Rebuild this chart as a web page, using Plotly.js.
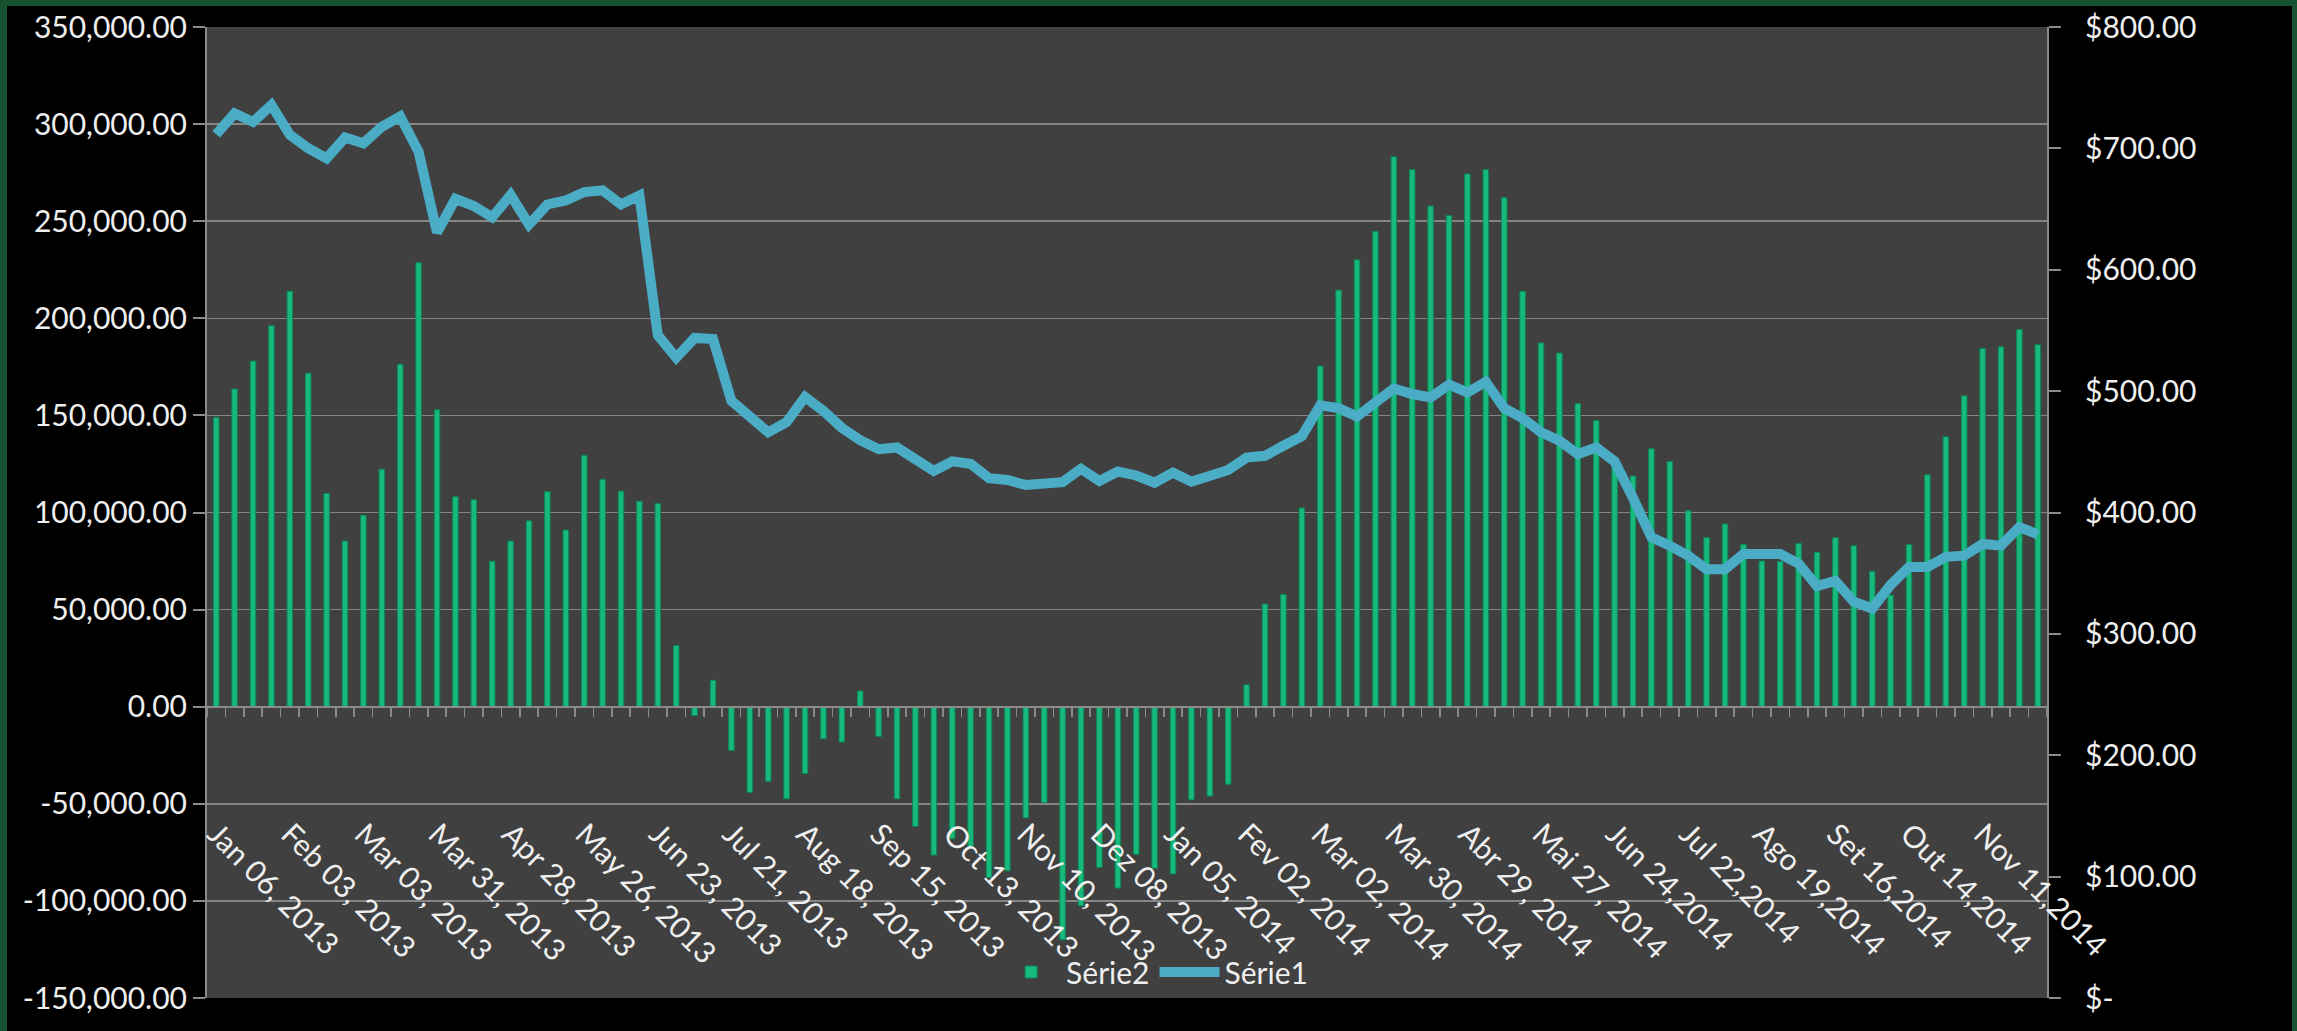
<!DOCTYPE html>
<html>
<head>
<meta charset="utf-8">
<script src="https://cdn.plot.ly/plotly-3.0.1.min.js"></script>
<style>
html, body { margin: 0; padding: 0; width: 2297px; height: 1031px; overflow: hidden; background: #15522f; }
#plot { position: absolute; left: 7px; top: 6px; width: 2285px; height: 1025px; background: #000; }
</style>
</head>
<body>
<div id="plot"></div>
<script>
// weekly values, Jan 06 2013 .. Nov 30 2014
let serie2 = [
  149000, 163600, 178000, 196200, 213900, 171700, 109800, 85300, 98600, 122300,
  176300, 228600, 152900, 108100, 106600, 74900, 85300, 95700, 110700, 91000,
  129500, 117100, 111000, 105800, 104600, 31500, -4600, 13600, -22500, -44200,
  -38400, -47400, -34400, -16500, -18200, 8100, -15300, -47400, -61600, -76400,
  -68000, -72000, -88000, -84500, -57200, -49400, -120000, -102500, -82800, -93400,
  -76000, -83200, -86100, -48000, -46000, -39900, 11300, 52900, 57800, 102300,
  175400, 214500, 230100, 244800, 283200, 276600, 257800, 252900, 274300, 276600,
  262100, 213900, 187300, 182100, 156100, 147400, 128000, 118800, 132800, 126200,
  100900, 87000, 94100, 83600, 75000, 74800, 84100, 79500, 87000, 82900,
  69700, 57500, 83500, 119400, 139000, 160100, 184400, 185300, 194200, 186400
]

let serie1 = [
  711.6, 728.8, 721.8, 735.7, 711.2, 700.1, 691.8, 708.9, 704.2, 717.7,
  726.4, 697.3, 630.7, 658.5, 652.5, 643.2, 661.7, 637.2, 653.8, 657.1,
  664.0, 665.4, 653.8, 661.2, 546.1, 527.6, 543.8, 542.9, 492.0, 477.7,
  466.1, 474.4, 495.2, 483.7, 469.8, 459.6, 452.2, 453.6, 443.0, 434.2,
  442.1, 440.2, 428.2, 426.8, 422.6, 423.6, 425.0, 436.0, 425.9, 433.7,
  430.5, 424.5, 432.8, 425.4, 429.6, 435.1, 445.3, 446.7, 455.0, 462.9,
  488.3, 486.0, 479.1, 492.0, 502.2, 497.6, 494.8, 505.4, 498.9, 507.7,
  486.0, 477.7, 466.1, 459.2, 448.1, 453.6, 442.1, 412.0, 379.6, 372.7,
  364.4, 353.3, 353.3, 365.8, 365.8, 365.8, 357.9, 339.4, 343.6, 326.5,
  320.9, 340.3, 355.1, 355.1, 363.5, 364.4, 374.1, 372.7, 388.0, 382.0
]

// category labels, one every 4 weeks
let dateLabels = [
  "Jan 06, 2013", "Feb 03, 2013", "Mar 03, 2013", "Mar 31, 2013", "Apr 28, 2013",
  "May 26, 2013", "Jun 23, 2013", "Jul 21, 2013", "Aug 18, 2013", "Sep 15, 2013",
  "Oct 13, 2013", "Nov 10, 2013", "Dez 08, 2013", "Jan 05, 2014", "Fev 02, 2014",
  "Mar 02, 2014", "Mar 30, 2014", "Abr 29, 2014", "Mai 27, 2014", "Jun 24,2014",
  "Jul 22,2014", "Ago 19,2014", "Set 16,2014", "Out 14,2014", "Nov 11,2014"
]
let labelEvery = 4

let leftTicks = [-150000, -100000, -50000, 0, 50000, 100000, 150000, 200000, 250000, 300000, 350000]
let leftTickText = ["-150,000.00", "-100,000.00", "-50,000.00", "0.00", "50,000.00", "100,000.00",
  "150,000.00", "200,000.00", "250,000.00", "300,000.00", "350,000.00"]
let rightTicks = [0, 100, 200, 300, 400, 500, 600, 700, 800]
let rightTickText = ["$-", "$100.00", "$200.00", "$300.00", "$400.00", "$500.00", "$600.00", "$700.00", "$800.00"]

let weeks = []
for (let i = 0; i < serie2.length; i++) weeks.push(i)
let labelPos = []
for (let i = 0; i < dateLabels.length; i++) labelPos.push(i * labelEvery)

let txt = "#efefef"
let axisGray = "#8a8a8a"
let font = "Lato, 'Open Sans', sans-serif"
let fs = 30

let trace2 = {
  x: weeks,
  y: serie2,
  name: "Série2",
  type: "bar",
  width: 0.3,
  marker: { color: "#17ba7c", line: { color: "#0c8654", width: 1 } },
  yaxis: "y"
}

let trace1 = {
  x: weeks,
  y: serie1,
  name: "Série1",
  type: "scatter",
  mode: "lines",
  line: { color: "#4bacc6", width: 10, shape: "linear" },
  yaxis: "y2"
}

let layout = {
  width: 2285,
  height: 1025,
  paper_bgcolor: "#000000",
  plot_bgcolor: "#404040",
  margin: { l: 200, r: 245, t: 21, b: 33 },
  font: { family: font, size: fs, color: txt },
  showlegend: true,
  legend: {
    orientation: "h",
    x: 0.515, xanchor: "center",
    y: 0.0, yanchor: "bottom",
    bgcolor: "rgba(0,0,0,0)",
    font: { family: font, size: fs, color: txt },
    itemwidth: 60
  },
  xaxis: {
    type: "linear",
    range: [-0.5, serie2.length - 0.5],
    anchor: "free",
    position: 0.3,
    tickmode: "array",
    tickvals: labelPos,
    ticktext: dateLabels,
    tickangle: 45,
    ticks: "",
    ticklabelstandoff: 97,
    showline: true,
    linecolor: axisGray,
    linewidth: 2,
    showgrid: false,
    zeroline: false,
    minor: { ticks: "outside", ticklen: 9, tickwidth: 1.5, tickcolor: axisGray, tick0: -0.5, dtick: 1 },
    tickfont: { family: font, size: fs, color: txt }
  },
  yaxis: {
    range: [-150000, 350000],
    tickmode: "array",
    tickvals: leftTicks,
    ticktext: leftTickText,
    showline: true,
    linecolor: axisGray,
    linewidth: 2,
    ticks: "outside",
    ticklen: 12,
    tickcolor: axisGray,
    tickwidth: 2,
    showgrid: true,
    gridcolor: "#858585",
    gridwidth: 1.5,
    zeroline: false,
    tickfont: { family: font, size: fs, color: txt }
  },
  yaxis2: {
    overlaying: "y",
    side: "right",
    range: [0, 800],
    tickmode: "array",
    tickvals: rightTicks,
    ticktext: rightTickText,
    showline: true,
    linecolor: axisGray,
    linewidth: 2,
    ticks: "outside",
    ticklen: 12,
    tickcolor: axisGray,
    tickwidth: 2,
    showgrid: false,
    zeroline: false,
    ticklabelstandoff: 18,
    tickfont: { family: font, size: fs, color: txt }
  }
}

Plotly.newPlot("plot", [trace2, trace1], layout, { displayModeBar: false, staticPlot: true })
</script>
</body>
</html>
